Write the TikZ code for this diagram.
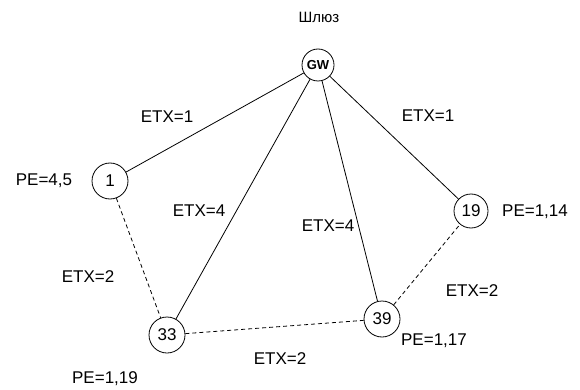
\documentclass[tikz,border=0pt]{standalone}
\usepackage{fontspec}
\setmainfont{Liberation Sans}
\begin{document}
\begin{tikzpicture}[x=1pt,y=-1pt,
  nd/.style={draw,circle,line width=0.8pt,minimum size=36pt,inner sep=0pt,font=\fontsize{17}{17}\selectfont},
  lbl/.style={inner sep=0pt,font=\fontsize{17}{17}\selectfont},
  link/.style={line width=0.8pt},
  weak/.style={line width=0.8pt,dash pattern=on 4pt off 3pt}]
\useasboundingbox (0,0) rectangle (580,390);
\node[nd,minimum size=32pt,font=\fontsize{13}{13}\selectfont\bfseries] (gw) at (318,65) {GW};
\node[nd] (n1) at (110,181) {1};
\node[nd] (n33) at (167,335) {33};
\node[nd] (n39) at (382,319) {39};
\node[nd,minimum size=34pt] (n19) at (471,211) {19};
\node[lbl,font=\fontsize{15}{15}\selectfont] (gwl) at (319,17) {Шлюз};
\draw[link] (gw) -- (n1);
\draw[link] (gw) -- (n33);
\draw[link] (gw) -- (n39);
\draw[link] (gw) -- (n19);
\draw[weak] (n1) -- (n33);
\draw[weak] (n33) -- (n39);
\draw[weak] (n39) -- (n19);
\node[lbl] (e1) at (167,117) {ETX=1};
\node[lbl] (e2) at (428,116) {ETX=1};
\node[lbl] (e3) at (199,211) {ETX=4};
\node[lbl] (e4) at (328,226) {ETX=4};
\node[lbl] (e5) at (88,277) {ETX=2};
\node[lbl] (e6) at (280,359) {ETX=2};
\node[lbl] (e7) at (472,291) {ETX=2};
\node[lbl] (p1) at (44,181) {PE=4,5};
\node[lbl] (p19) at (535,212) {PE=1,14};
\node[lbl] (p39) at (434,341) {PE=1,17};
\node[lbl] (p33) at (105,379) {PE=1,19};
\end{tikzpicture}
\end{document}
